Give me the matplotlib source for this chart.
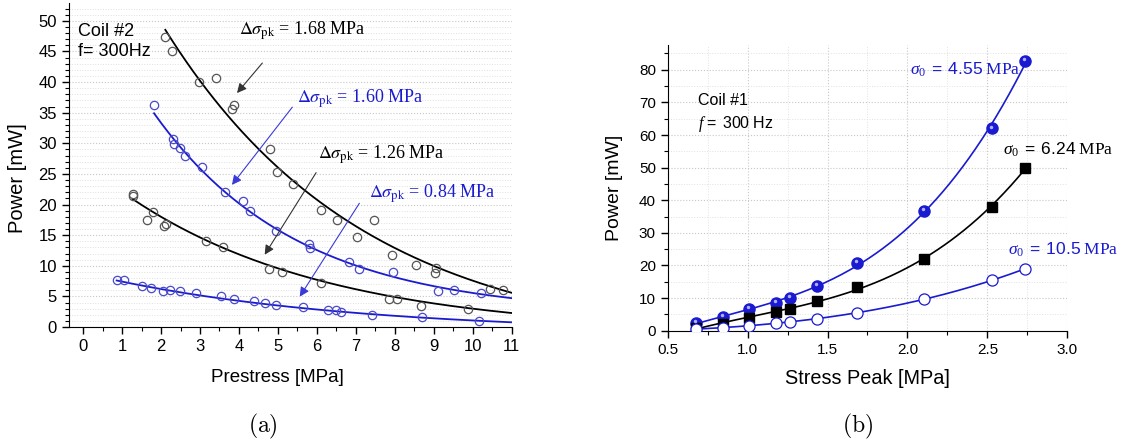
import numpy as np
import matplotlib
matplotlib.use("Agg")
import matplotlib.pyplot as plt
from matplotlib.ticker import MultipleLocator

plt.rcParams['font.family'] = ['Liberation Sans', 'DejaVu Sans']
plt.rcParams['mathtext.fontset'] = 'stix'
plt.rcParams['mathtext.rm'] = 'Liberation Serif'
plt.rcParams['mathtext.it'] = 'Liberation Serif:italic'
plt.rcParams['mathtext.sf'] = 'Liberation Sans'

# ---------------- (a) Coil #2 data ----------------
s1_x = [2.11, 2.29, 2.97, 3.40, 3.83, 3.86, 4.80, 4.97, 5.38, 6.11, 6.52, 7.03, 7.46, 7.93, 8.55, 9.06, 9.04, 10.45, 10.77]
s1_y = [47.4, 45.0, 40.0, 40.7, 35.6, 36.2, 29.0, 25.3, 23.3, 19.1, 17.4, 14.7, 17.5, 11.7, 10.2, 9.7, 8.8, 6.2, 6.0]
s2_x = [1.81, 2.31, 2.33, 2.49, 2.62, 3.06, 3.64, 4.10, 4.28, 4.94, 5.79, 5.83, 6.82, 7.09, 7.96, 9.12, 9.51, 10.21]
s2_y = [36.2, 30.7, 29.8, 29.2, 28.0, 26.1, 22.1, 20.5, 19.0, 15.6, 13.6, 12.9, 10.6, 9.4, 8.9, 5.9, 6.0, 5.5]
s3_x = [1.29, 1.27, 1.63, 1.80, 2.08, 2.13, 3.16, 3.60, 4.78, 5.10, 6.11, 7.86, 8.05, 8.68, 9.88]
s3_y = [21.7, 21.4, 17.5, 18.7, 16.5, 16.8, 14.0, 13.0, 9.5, 9.0, 7.2, 4.6, 4.6, 3.5, 3.0]
s4_x = [0.86, 1.04, 1.50, 1.73, 2.04, 2.22, 2.49, 2.91, 3.54, 3.87, 4.38, 4.66, 4.94, 5.64, 6.29, 6.48, 6.61, 7.41, 8.70, 10.17]
s4_y = [7.6, 7.6, 6.7, 6.3, 5.9, 6.0, 5.9, 5.5, 5.0, 4.6, 4.3, 4.0, 3.6, 3.2, 2.7, 2.8, 2.45, 2.0, 1.6, 1.0]
# exponential-decay fit parameters: y = y0 + A*exp(-k*x), drawn from x_start to 11
fit_y0 = [-3.6, 2.0, -1.0, -1.0]
fit_A = [78.7, 53.97, 28.05, 9.83]
fit_k = [0.1953, 0.272, 0.195, 0.156]
fit_xstart = [2.11, 1.82, 1.27, 0.86]
left_labels = ['1.68', '1.60', '1.26', '0.84']

# ---------------- (b) Coil #1 data ----------------
stress_peak = [0.674, 0.843, 1.011, 1.179, 1.264, 1.432, 1.685, 2.106, 2.527, 2.738]
p_455 = [2.45, 4.1, 6.6, 8.6, 10.1, 13.7, 20.7, 36.8, 62.0, 82.8]
p_624 = [0.9, 2.05, 4.0, 5.7, 6.65, 9.2, 13.3, 21.9, 38.0, 50.0]
p_105 = [0.5, 0.9, 1.5, 2.25, 2.8, 3.7, 5.5, 9.6, 15.5, 19.0]
right_labels = ['4.55', '6.24', '10.5']

BLUE = '#1a1ad0'
W, H = 1123, 445
fig = plt.figure(figsize=(W / 100, H / 100), dpi=100)

def ax_rect(x0, x1, ytop, ybot):
    return [x0 / W, 1 - ybot / H, (x1 - x0) / W, (ybot - ytop) / H]

# ================= left panel =================
ax = fig.add_axes(ax_rect(68.7, 511.7, 3, 327))
ax.set_xlim(-0.37, 11)
ax.set_ylim(0, 52.9)
for sp in ['top', 'right']:
    ax.spines[sp].set_visible(False)
ax.xaxis.set_major_locator(MultipleLocator(1))
ax.xaxis.set_minor_locator(MultipleLocator(0.5))
ax.yaxis.set_major_locator(MultipleLocator(5))
ax.yaxis.set_minor_locator(MultipleLocator(1))
ax.tick_params(which='major', direction='out', length=5, labelsize=12, width=1)
ax.tick_params(which='minor', direction='out', length=3, width=0.8)
ax.grid(axis='y', which='major', color='#c8c8c8', linestyle=':', linewidth=0.8)
ax.grid(axis='y', which='minor', color='#e0e0e0', linestyle=':', linewidth=0.7)
ax.set_axisbelow(True)

series = [(s1_x, s1_y, 'k', '#555555'), (s2_x, s2_y, BLUE, '#4a4ac8'),
          (s3_x, s3_y, 'k', '#555555'), (s4_x, s4_y, BLUE, '#4a4ac8')]
for i, (xs, ys, lc, mc) in enumerate(series):
    ax.plot(xs, ys, 'o', mfc='none', mec=mc, ms=6, mew=0.9, zorder=3)
    xx = np.linspace(fit_xstart[i], 11, 200)
    ax.plot(xx, fit_y0[i] + fit_A[i] * np.exp(-fit_k[i] * xx), color=lc, lw=1.3, zorder=2)

ax.set_xlabel('Prestress [MPa]', fontsize=13.5)
ax.xaxis.set_label_coords((277 - 68.7) / (511.7 - 68.7), -(369 - 327) / 324)
ax.set_ylabel('Power [mW]', fontsize=14.5)
ax.yaxis.set_label_coords(-(68.7 - 27) / 443, (327 - 178) / 324)
ax.text(-0.12, 49.6, 'Coil #2\nf= 300Hz', fontsize=13, va='top', linespacing=1.2)

txt_pos = [(4.0, 48.3), (5.48, 37.3), (6.02, 28.1), (7.35, 21.7)]
arrows = [((4.60, 43.1), (3.95, 38.2)), ((5.37, 35.9), (3.82, 23.2)),
          ((5.98, 25.2), (4.66, 11.8)), ((7.09, 20.2), (5.56, 4.95))]
tcols = ['k', BLUE, 'k', BLUE]
acols = ['#333333', '#3a3ad8', '#333333', '#3a3ad8']
for i in range(4):
    ax.text(txt_pos[i][0], txt_pos[i][1],
            r'$\Delta\sigma_{\mathrm{pk}}$ = ' + left_labels[i] + ' MPa',
            family=['Liberation Serif'], fontsize=13, color=tcols[i], va='center')
    ax.annotate('', xy=arrows[i][1], xytext=arrows[i][0],
                arrowprops=dict(arrowstyle='-|>', color=acols[i], lw=0.8,
                                mutation_scale=14, shrinkA=0, shrinkB=0))

# ================= right panel =================
bx = fig.add_axes(ax_rect(667.7, 1067.3, 45, 330.7))
bx.set_xlim(0.5, 3.0)
bx.set_ylim(0, 87.6)
for sp in ['top', 'right']:
    bx.spines[sp].set_visible(False)
bx.xaxis.set_major_locator(MultipleLocator(0.5))
bx.xaxis.set_minor_locator(MultipleLocator(0.25))
bx.yaxis.set_major_locator(MultipleLocator(10))
bx.yaxis.set_minor_locator(MultipleLocator(5))
bx.xaxis.set_major_formatter(matplotlib.ticker.FormatStrFormatter('%.1f'))
bx.tick_params(which='major', direction='out', length=5, labelsize=11, width=1)
bx.tick_params(which='minor', direction='out', length=3, width=0.8)
bx.grid(which='major', color='#c8c8c8', linestyle=':', linewidth=0.8)
bx.grid(which='minor', color='#e2e2e2', linestyle=':', linewidth=0.7)
bx.set_axisbelow(True)

sp_arr = np.array(stress_peak)
xx = np.linspace(sp_arr[0], sp_arr[-1], 200)
for ys, col in [(p_455, BLUE), (p_624, 'k'), (p_105, BLUE)]:
    c = np.polyfit(sp_arr, np.array(ys), 3)
    bx.plot(xx, np.polyval(c, xx), color=col, lw=1.2, zorder=2)

bx.plot(stress_peak, p_455, 'o', color=BLUE, mec=BLUE, ms=8, zorder=3)
bx.plot(np.array(stress_peak) - 0.006, np.array(p_455) + 0.6, 'o', color='#b0b0ff',
        mec='none', ms=2.5, zorder=4)
bx.plot(stress_peak, p_624, 's', color='k', ms=6.5, zorder=3)
bx.plot(stress_peak, p_105, 'o', mfc='white', mec=BLUE, mew=0.9, ms=8, zorder=3)

bx.set_xlabel('Stress Peak [MPa]', fontsize=14.3)
bx.xaxis.set_label_coords((867 - 667.7) / 399.6, -(369 - 330.7) / 285.7)
bx.set_ylabel('Power [mW]', fontsize=14)
bx.yaxis.set_label_coords(-(667.7 - 623) / 399.6, (330.7 - 188) / 285.7)
bx.text(0.69, 73, 'Coil #1', fontsize=11.5, va='top')
bx.text(0.69, 66.3, r'$f\,\mathsf{=\ 300\ Hz}$', fontsize=11.5, va='top',
        math_fontfamily='custom')

rpos = [(2.014, 80.0, BLUE), (2.596, 55.4, 'k'), (2.627, 24.8, BLUE)]
for (x, y, col), v in zip(rpos, right_labels):
    bx.text(x, y, r'$\sigma_{0}\;\mathsf{=\ ' + v + r'}\ \mathrm{MPa}$', fontsize=12.5,
            color=col, va='center', math_fontfamily='custom')

fig.text(263 / W, 1 - 426 / H, r'$\mathrm{(a)}$', math_fontfamily='cm', fontsize=17,
         ha='center', va='center')
fig.text(858 / W, 1 - 426 / H, r'$\mathrm{(b)}$', math_fontfamily='cm', fontsize=17,
         ha='center', va='center')

fig.savefig('out.png', dpi=100)
